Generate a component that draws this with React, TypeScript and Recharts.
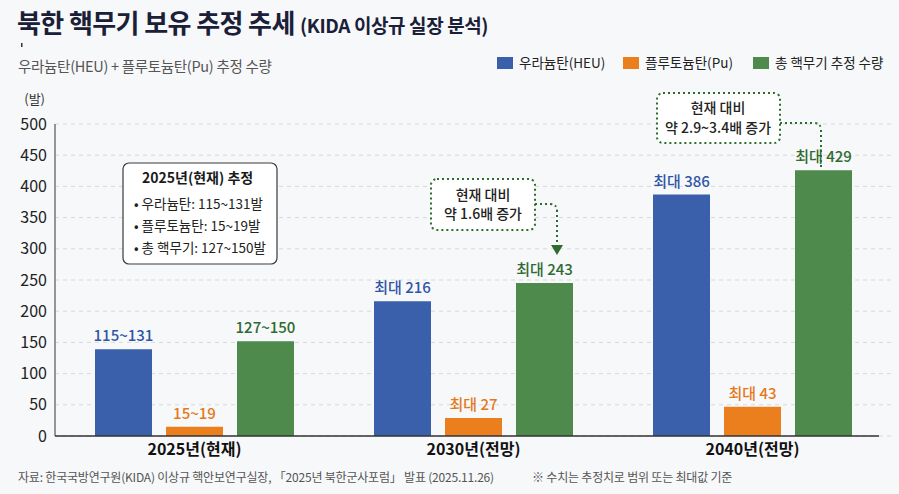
import { Bar, BarChart, CartesianGrid, LabelList, XAxis, YAxis } from "recharts";

const YEARS = ["2025년(현재)", "2030년(전망)", "2040년(전망)"];
const HEU = [139, 216, 387];
const PU = [15, 29, 47];
const TOTAL = [152, 245, 426];
const HEU_LABELS = ["115~131", "최대 216", "최대 386"];
const PU_LABELS = ["15~19", "최대 27", "최대 43"];
const TOTAL_LABELS = ["127~150", "최대 243", "최대 429"];
const Y_TICKS = [0, 50, 100, 150, 200, 250, 300, 350, 400, 450, 500];

const BLUE = "#3a60ac";
const ORANGE = "#eb7f1d";
const GREEN = "#4e8a4c";
const FONT = "'Noto Sans CJK KR', 'Noto Sans', sans-serif";

const data = YEARS.map((y, i) => ({
  name: y,
  heu: HEU[i],
  pu: PU[i],
  total: TOTAL[i],
  heuLabel: HEU_LABELS[i],
  puLabel: PU_LABELS[i],
  totalLabel: TOTAL_LABELS[i],
}));

const LEGEND = [
  { name: "우라늄탄(HEU)", color: BLUE, x: 497 },
  { name: "플루토늄탄(Pu)", color: ORANGE, x: 623 },
  { name: "총 핵무기 추정 수량", color: GREEN, x: 753 },
];

// top label that never wraps
const topLabel = (color: string) => (props: any) => {
  const { x, y, width, value } = props;
  return (
    <text x={x + width / 2} y={y - 8} textAnchor="middle" fill={color} fontSize={15} fontWeight={500} fontFamily={FONT}>
      {value}
    </text>
  );
};

function Overlay() {
  const dash = { stroke: "#2e6b2e", strokeWidth: 2, strokeDasharray: "2 3", fill: "none" };
  return (
    <svg width={899} height={494} style={{ position: "absolute", left: 0, top: 0, pointerEvents: "none", fontFamily: FONT }}>
      <text x={17} y={33} fontSize={26} fontWeight={700} fill="#1a2038" letterSpacing={-0.6}>
        북한 핵무기 보유 추정 추세 <tspan fontSize={19} letterSpacing={-0.4}>(KIDA 이상규 실장 분석)</tspan>
      </text>
      <rect x={21} y={43} width={1.5} height={4} fill="#333" />
      <text x={18} y={72} fontSize={14.5} fill="#555" letterSpacing={-0.3}>우라늄탄(HEU) + 플루토늄탄(Pu) 추정 수량</text>
      {LEGEND.map((l) => (
        <g key={l.name}>
          <rect x={l.x} y={57} width={16} height={12} fill={l.color} />
          <text x={l.x + 22} y={68} fontSize={13.5} fill="#222">{l.name}</text>
        </g>
      ))}
      <text x={45} y={104} fontSize={13} fill="#333" textAnchor="end">(발)</text>

      {/* x baseline, stops short of the plot's right edge like the original */}
      <line x1={55} x2={879} y1={436} y2={436} stroke="#333" strokeWidth={1.5} />

      <rect x={123} y={163} width={154} height={101} rx={6} fill="#fff" stroke="#3a3a3a" strokeWidth={1.2} />
      <text x={142} y={183} fontSize={14} fontWeight={700} fill="#1a1a1a">2025년(현재) 추정</text>
      <text x={134} y={209} fontSize={13.5} fill="#222">• 우라늄탄: 115~131발</text>
      <text x={134} y={231} fontSize={13.5} fill="#222">• 플루토늄탄: 15~19발</text>
      <text x={134} y={253} fontSize={13.5} fill="#222">• 총 핵무기: 127~150발</text>

      <rect x={431} y={179} width={104} height={51} rx={6} {...dash} style={{ fill: "#fff" }} />
      <text x={483} y={200} fontSize={14} fontWeight={500} fill="#222" textAnchor="middle">현재 대비</text>
      <text x={483} y={219} fontSize={14} fontWeight={500} fill="#222" textAnchor="middle">약 1.6배 증가</text>
      <path d="M535 204 H550 Q557 204 557 211 V246" {...dash} />
      <polygon points="551,245 563,245 557,255" fill="#2e6b2e" />

      <rect x={657} y={93} width={123} height={50} rx={6} {...dash} style={{ fill: "#fff" }} />
      <text x={718} y={113} fontSize={14} fontWeight={500} fill="#222" textAnchor="middle">현재 대비</text>
      <text x={718} y={133} fontSize={14} fontWeight={500} fill="#222" textAnchor="middle">약 2.9~3.4배 증가</text>
      <path d="M780 123 H814 Q821 123 821 130 V167" {...dash} />

      <text x={18} y={482} fontSize={12} fill="#555" letterSpacing={-0.2}>
        자료: 한국국방연구원(KIDA) 이상규 핵안보연구실장, 「2025년 북한군사포럼」 발표 (2025.11.26)
      </text>
      <text x={532} y={482} fontSize={12} fill="#555" letterSpacing={-0.2}>※ 수치는 추정치로 범위 또는 최대값 기준</text>
    </svg>
  );
}

export default function App() {
  return (
    <div style={{ position: "absolute", left: 0, top: 0, width: 899, height: 494, background: "#f7f8fa", fontFamily: FONT }}>
      <BarChart width={899} height={494} data={data} margin={{ top: 124, right: 7, bottom: 28, left: 15 }} barSize={57} barGap={14}>
        <CartesianGrid vertical={false} stroke="#d6d9dd" strokeDasharray="4 4" />
        <XAxis
          dataKey="name"
          height={30}
          axisLine={false}
          tickLine={false}
          tick={{ fill: "#111", fontSize: 16, fontWeight: 700, fontFamily: FONT }}
        />
        <YAxis
          width={40}
          domain={[0, 500]}
          ticks={Y_TICKS}
          interval={0}
          axisLine={{ stroke: "#555", strokeWidth: 1.2 }}
          tickLine={false}
          tick={{ fill: "#222", fontSize: 16, fontFamily: FONT }}
        />
        <Bar dataKey="heu" fill={BLUE} isAnimationActive={false}>
          <LabelList dataKey="heuLabel" content={topLabel("#2f56a5")} />
        </Bar>
        <Bar dataKey="pu" fill={ORANGE} isAnimationActive={false}>
          <LabelList dataKey="puLabel" content={topLabel("#e5781a")} />
        </Bar>
        <Bar dataKey="total" fill={GREEN} isAnimationActive={false}>
          <LabelList dataKey="totalLabel" content={topLabel("#2e6a31")} />
        </Bar>
      </BarChart>
      <Overlay />
    </div>
  );
}
